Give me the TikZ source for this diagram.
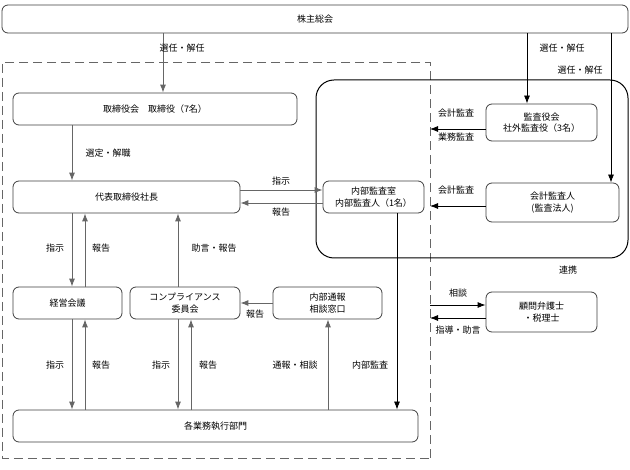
\documentclass[tikz,border=0pt]{standalone}
\usepackage{fontspec}
\newfontfamily\cjk{Noto Sans CJK JP}
\usetikzlibrary{arrows.meta}
\begin{document}
\begin{tikzpicture}[x=1pt,y=-1pt,
  box/.style={draw=black!75,line width=0.8pt,rounded corners=6pt,align=center,inner sep=0pt},
  lab/.style={font=\cjk\fontsize{9}{10}\selectfont,inner sep=0pt},
  ar/.style={draw=black!60,line width=0.9pt,-{Latex[length=8pt,width=6pt]}},
  arb/.style={draw=black,line width=0.8pt,-{Latex[length=8pt,width=6pt]}},
  every node/.style={font=\cjk\fontsize{9}{11.5}\selectfont}]
\fill[white] (0,0) rectangle (630,470);
\useasboundingbox (0,0) rectangle (630,470);
\newcommand\bx[6]{\node[box,minimum width=#4-#2,minimum height=#5-#3] (#1) at ({(#2+#4)/2},{(#3+#5)/2}) {#6};}
\draw[black!60,line width=0.8pt,dash pattern=on 9pt off 5pt] (430,458) -- (430,62) -- (2,62) -- (2,458) -- cycle;
\draw[black,line width=1pt,rounded corners=18pt] (316,80) rectangle (628,258);
\bx{sh}{2}{5}{628}{33}{株主総会}
\bx{tr}{13}{93}{297}{125}{取締役会\quad 取締役（7名）}
\bx{ce}{13}{181}{240}{213}{代表取締役社長}
\bx{ia}{323}{181}{424}{213}{内部監査室\\内部監査人（1名）}
\bx{ka}{486}{104}{597}{141}{監査役会\\社外監査役（3名）}
\bx{au}{486}{183}{619}{222}{会計監査人\\(監査法人)}
\bx{km}{13}{287}{122}{319}{経営会議}
\bx{co}{130}{287}{240}{319}{コンプライアンス\\委員会}
\bx{nt}{273}{287}{382}{319}{内部通報\\相談窓口}
\bx{bn}{486}{292}{597}{332}{顧問弁護士\\・税理士}
\bx{gy}{13}{410}{418}{442}{各業務執行部門}
\coordinate (d1) at (430,129);
\coordinate (d2) at (430,206);
\coordinate (d3) at (430,305);
\coordinate (d4) at (430,318);
% arrows
\draw[ar] (sh.south -| 163,0) -- (tr.north -| 163,0);
\node[lab] at (182,48) {選任・解任};
\draw[arb] (sh.south -| 527,0) -- (ka.north -| 527,0);
\node[lab] at (562,48) {選任・解任};
\draw[arb] (sh.south -| 611,0) -- (au.north -| 611,0);
\node[lab] at (580,70) {選任・解任};
\draw[ar] (tr.south -| 72,0) -- (ce.north -| 72,0);
\node[lab] at (108,153) {選定・解職};
\draw[ar] (ce.east |- 0,190) -- (ia.west |- 0,190);
\draw[ar] (ia.west |- 0,203) -- (ce.east |- 0,203);
\node[lab] at (281,181) {指示};
\node[lab] at (281,212) {報告};
\draw[arb] (ka.west |- d1) -- (d1);
\node[lab] at (456,113) {会計監査};
\node[lab] at (456,137) {業務監査};
\draw[arb] (au.west |- d2) -- (d2);
\node[lab] at (456,190) {会計監査};
\node[lab] at (568,270) {連携};
\draw[ar] (ce.south -| 72,0) -- (km.north -| 72,0);
\draw[ar] (km.north -| 85,0) -- (ce.south -| 85,0);
\node[lab] at (55,248) {指示};
\node[lab] at (101,248) {報告};
\draw[ar] (co.north -| 178,0) -- (ce.south -| 178,0);
\node[lab] at (214,248) {助言・報告};
\draw[ar] (nt.west |- 0,303) -- (co.east |- 0,303);
\node[lab] at (255,314) {報告};
\draw[ar] (km.south -| 72,0) -- (gy.north -| 72,0);
\draw[ar] (gy.north -| 85,0) -- (km.south -| 85,0);
\node[lab] at (55,365) {指示};
\node[lab] at (101,365) {報告};
\draw[ar] (co.south -| 178,0) -- (gy.north -| 178,0);
\draw[ar] (gy.north -| 191,0) -- (co.south -| 191,0);
\node[lab] at (161,365) {指示};
\node[lab] at (208,365) {報告};
\draw[ar] (gy.north -| 328,0) -- (nt.south -| 328,0);
\node[lab] at (295,365) {通報・相談};
\draw[arb] (ia.south -| 397,0) -- (gy.north -| 397,0);
\node[lab] at (370,365) {内部監査};
\draw[arb] (d3) -- (bn.west |- d3);
\node[lab] at (458,293) {相談};
\draw[arb] (bn.west |- d4) -- (d4);
\node[lab] at (458,330) {指導・助言};
\end{tikzpicture}
\end{document}
